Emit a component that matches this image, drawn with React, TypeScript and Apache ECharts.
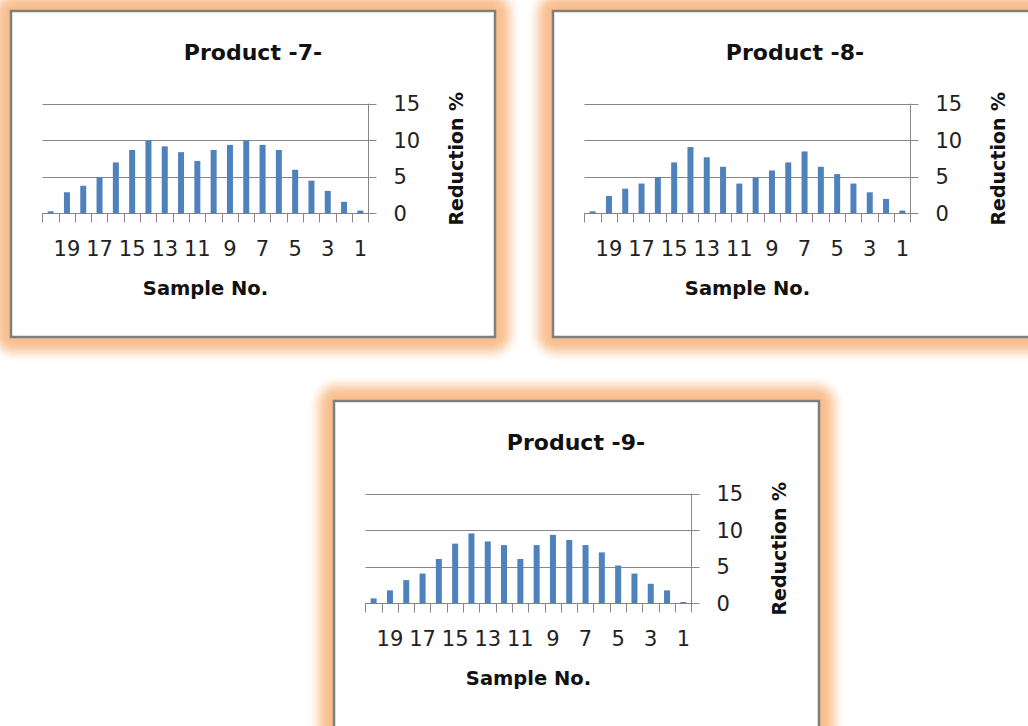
import React, { useEffect, useRef } from "react";
import * as echarts from "echarts";

const categories = ["20", "19", "18", "17", "16", "15", "14", "13", "12", "11", "10", "9", "8", "7", "6", "5", "4", "3", "2", "1"];
const product7 = [0.3, 2.9, 3.8, 5.0, 7.0, 8.7, 10.0, 9.2, 8.4, 7.2, 8.7, 9.4, 10.0, 9.4, 8.7, 6.0, 4.5, 3.1, 1.6, 0.4];
const product8 = [0.3, 2.4, 3.4, 4.1, 5.0, 7.0, 9.1, 7.7, 6.4, 4.1, 4.9, 5.9, 7.0, 8.5, 6.4, 5.4, 4.1, 2.9, 2.0, 0.4];
const product9 = [0.7, 1.8, 3.2, 4.1, 6.1, 8.2, 9.6, 8.5, 8.0, 6.1, 8.0, 9.4, 8.7, 8.0, 7.0, 5.2, 4.1, 2.7, 1.8, 0.2];
const titles = ["Product -7-", "Product -8-", "Product -9-"];
const xAxisTitle = "Sample No.";
const yAxisTitle = "Reduction %";
const yMin = 0;
const yMax = 15;
const yStep = 5;

const seriesData = [product7, product8, product9];
// layout (box top-left corners)
const boxes = [
  { x: 11, y: 11, w: 484, h: 326 },
  { x: 553, y: 11, w: 484, h: 326 },
  { x: 334, y: 401, w: 485, h: 345 },
];
// glow layers: [extension px, opacity]
const glowLayers: [number, number][] = [
  [24, 0.06], [22, 0.08], [20, 0.1], [18, 0.15], [16, 0.2], [14, 0.25],
  [12, 0.3], [10, 0.35], [8, 0.4], [6, 0.4], [4, 0.4],
];

const FONT = "'DejaVu Sans', 'Open Sans', sans-serif";
const GRAY = "#878787";

export default function App() {
  const ref = useRef<HTMLDivElement>(null);
  useEffect(() => {
    document.body.style.margin = "0";
    const chart = echarts.init(ref.current!, null, { renderer: "svg" });
    const graphic: any[] = [];
    const title: any[] = [];
    const grid: any[] = [];
    const xAxis: any[] = [];
    const yAxis: any[] = [];
    const series: any[] = [];
    boxes.forEach((b, i) => {
      glowLayers.forEach(([e, a], k) => {
        graphic.push({
          type: "rect",
          z: -40 + k,
          shape: { x: b.x - e, y: b.y - e, width: b.w + 2 * e, height: b.h + 2 * e, r: e + 4 },
          style: { fill: `rgba(249,188,138,${a})` },
        });
      });
      graphic.push({
        type: "rect",
        z: -10,
        shape: { x: b.x, y: b.y, width: b.w, height: b.h },
        style: { fill: "#ffffff", stroke: "#7f7f7f", lineWidth: 2.5 },
      });
      title.push({
        text: titles[i],
        left: b.x + 242,
        top: b.y + 30,
        padding: 0,
        textAlign: "center",
        textStyle: { fontFamily: FONT, fontWeight: "bold", fontSize: 22, color: "#111" },
      });
      grid.push({ left: b.x + 31.5, top: b.y + 93, width: 326, height: 109.5, containLabel: false });
      xAxis.push({
        gridIndex: i,
        type: "category",
        data: categories,
        boundaryGap: true,
        axisLine: { show: true, lineStyle: { color: GRAY, width: 1 } },
        axisTick: { show: true, interval: 0, length: 9, lineStyle: { color: GRAY } },
        axisLabel: {
          interval: (idx: number) => idx % 2 === 1,
          margin: 25,
          fontFamily: FONT,
          fontSize: 21,
          color: "#222",
        },
        name: xAxisTitle,
        nameLocation: "middle",
        nameGap: 65,
        nameTextStyle: { fontFamily: FONT, fontWeight: "bold", fontSize: 19.5, color: "#111", verticalAlign: "top" },
      });
      yAxis.push({
        gridIndex: i,
        type: "value",
        position: "right",
        min: yMin,
        max: yMax,
        interval: yStep,
        axisLine: { show: true, lineStyle: { color: GRAY, width: 1 } },
        axisTick: { show: true, length: 8, lineStyle: { color: GRAY } },
        splitLine: { show: true, lineStyle: { color: GRAY, width: 1 } },
        axisLabel: { margin: 25, fontFamily: FONT, fontSize: 21, color: "#222" },
        name: yAxisTitle,
        nameLocation: "middle",
        nameRotate: 90,
        nameGap: 78,
        nameTextStyle: { fontFamily: FONT, fontWeight: "bold", fontSize: 19, color: "#111" },
      });
      series.push({
        type: "bar",
        xAxisIndex: i,
        yAxisIndex: i,
        data: seriesData[i],
        barWidth: 6,
        itemStyle: { color: "#4F81BD" },
      });
    });
    chart.setOption({
      animation: false,
      backgroundColor: "#ffffff",
      graphic,
      title,
      grid,
      xAxis,
      yAxis,
      series,
    });
    return () => chart.dispose();
  }, []);
  return <div ref={ref} style={{ position: "absolute", left: 0, top: 0, width: 1028, height: 726 }} />;
}
